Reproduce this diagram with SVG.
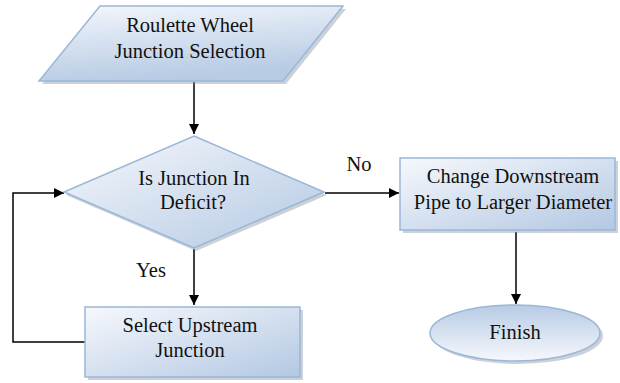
<svg xmlns="http://www.w3.org/2000/svg" width="620" height="383" viewBox="0 0 620 383">
<defs>
<linearGradient id="g1" x1="0" y1="0" x2="0.3" y2="1">
<stop offset="0" stop-color="#f4f7fc"/>
<stop offset="1" stop-color="#b7cbe4"/>
</linearGradient>
<linearGradient id="g2" x1="0" y1="0" x2="1" y2="1">
<stop offset="0" stop-color="#f6f8fc"/>
<stop offset="1" stop-color="#b3c8e3"/>
</linearGradient>
<linearGradient id="g3" x1="0" y1="0" x2="0" y2="1">
<stop offset="0" stop-color="#b7cbe4"/>
<stop offset="1" stop-color="#f6f8fc"/>
</linearGradient>
<marker id="ah" markerWidth="10" markerHeight="10" refX="10" refY="5" orient="auto" markerUnits="userSpaceOnUse">
<path d="M0,0 L10,5 L0,10 z" fill="#000"/>
</marker>
<style>
.shape{stroke:#9ab6d8;stroke-width:1.5}
.shadow{fill:#8f9aa6;opacity:0.45}
.t{font-size:20.5px;fill:#111;text-anchor:middle}
.c{fill:none;stroke:#000;stroke-width:1.5}
</style>
</defs>
<g id="connectors">
<path class="c" d="M194,82 L194,134" marker-end="url(#ah)"/>
<path class="c" d="M194,249 L194,305" marker-end="url(#ah)"/>
<path class="c" d="M325,193 L399,193" marker-end="url(#ah)"/>
<path class="c" d="M516,232 L516,304" marker-end="url(#ah)"/>
<path class="c" d="M85,342 L13,342 L13,193 L64,193" marker-end="url(#ah)"/>
<text class="t" font-family="Liberation Serif" x="359" y="171">No</text>
<text class="t" font-family="Liberation Serif" x="151" y="277">Yes</text>
</g>
<g id="roulette">
<polygon class="shadow" points="102,9 346,9 286,84 42,84"/>
<polygon class="shape" fill="url(#g1)" points="100,6 343,6 283,81 39,81"/>
<text class="t" font-family="Liberation Serif" x="190" y="32">Roulette Wheel</text>
<text class="t" font-family="Liberation Serif" x="190" y="58">Junction Selection</text>
</g>
<g id="deficit">
<polygon class="shadow" points="196,139 327,195 196,251 66,195"/>
<polygon class="shape" fill="url(#g2)" points="194,136 324,192 194,248 64,192"/>
<text class="t" font-family="Liberation Serif" x="194" y="185">Is Junction In</text>
<text class="t" font-family="Liberation Serif" x="193" y="209">Deficit?</text>
</g>
<g id="upstream">
<rect class="shadow" x="88" y="310" width="215" height="70"/>
<rect class="shape" fill="url(#g2)" x="85" y="307" width="215" height="70"/>
<text class="t" font-family="Liberation Serif" x="190" y="332">Select Upstream</text>
<text class="t" font-family="Liberation Serif" x="190" y="357">Junction</text>
</g>
<g id="downstream">
<rect class="shadow" x="403" y="161" width="215" height="72"/>
<rect class="shape" fill="url(#g2)" x="400" y="158" width="215" height="72"/>
<text class="t" font-family="Liberation Serif" x="513" y="183">Change Downstream</text>
<text class="t" font-family="Liberation Serif" x="513" y="209">Pipe to Larger Diameter</text>
</g>
<g id="finish">
<ellipse class="shadow" cx="518" cy="336" rx="85" ry="28"/>
<ellipse class="shape" fill="url(#g3)" cx="515" cy="333" rx="85" ry="28"/>
<text class="t" font-family="Liberation Serif" x="515" y="339">Finish</text>
</g>
</svg>
